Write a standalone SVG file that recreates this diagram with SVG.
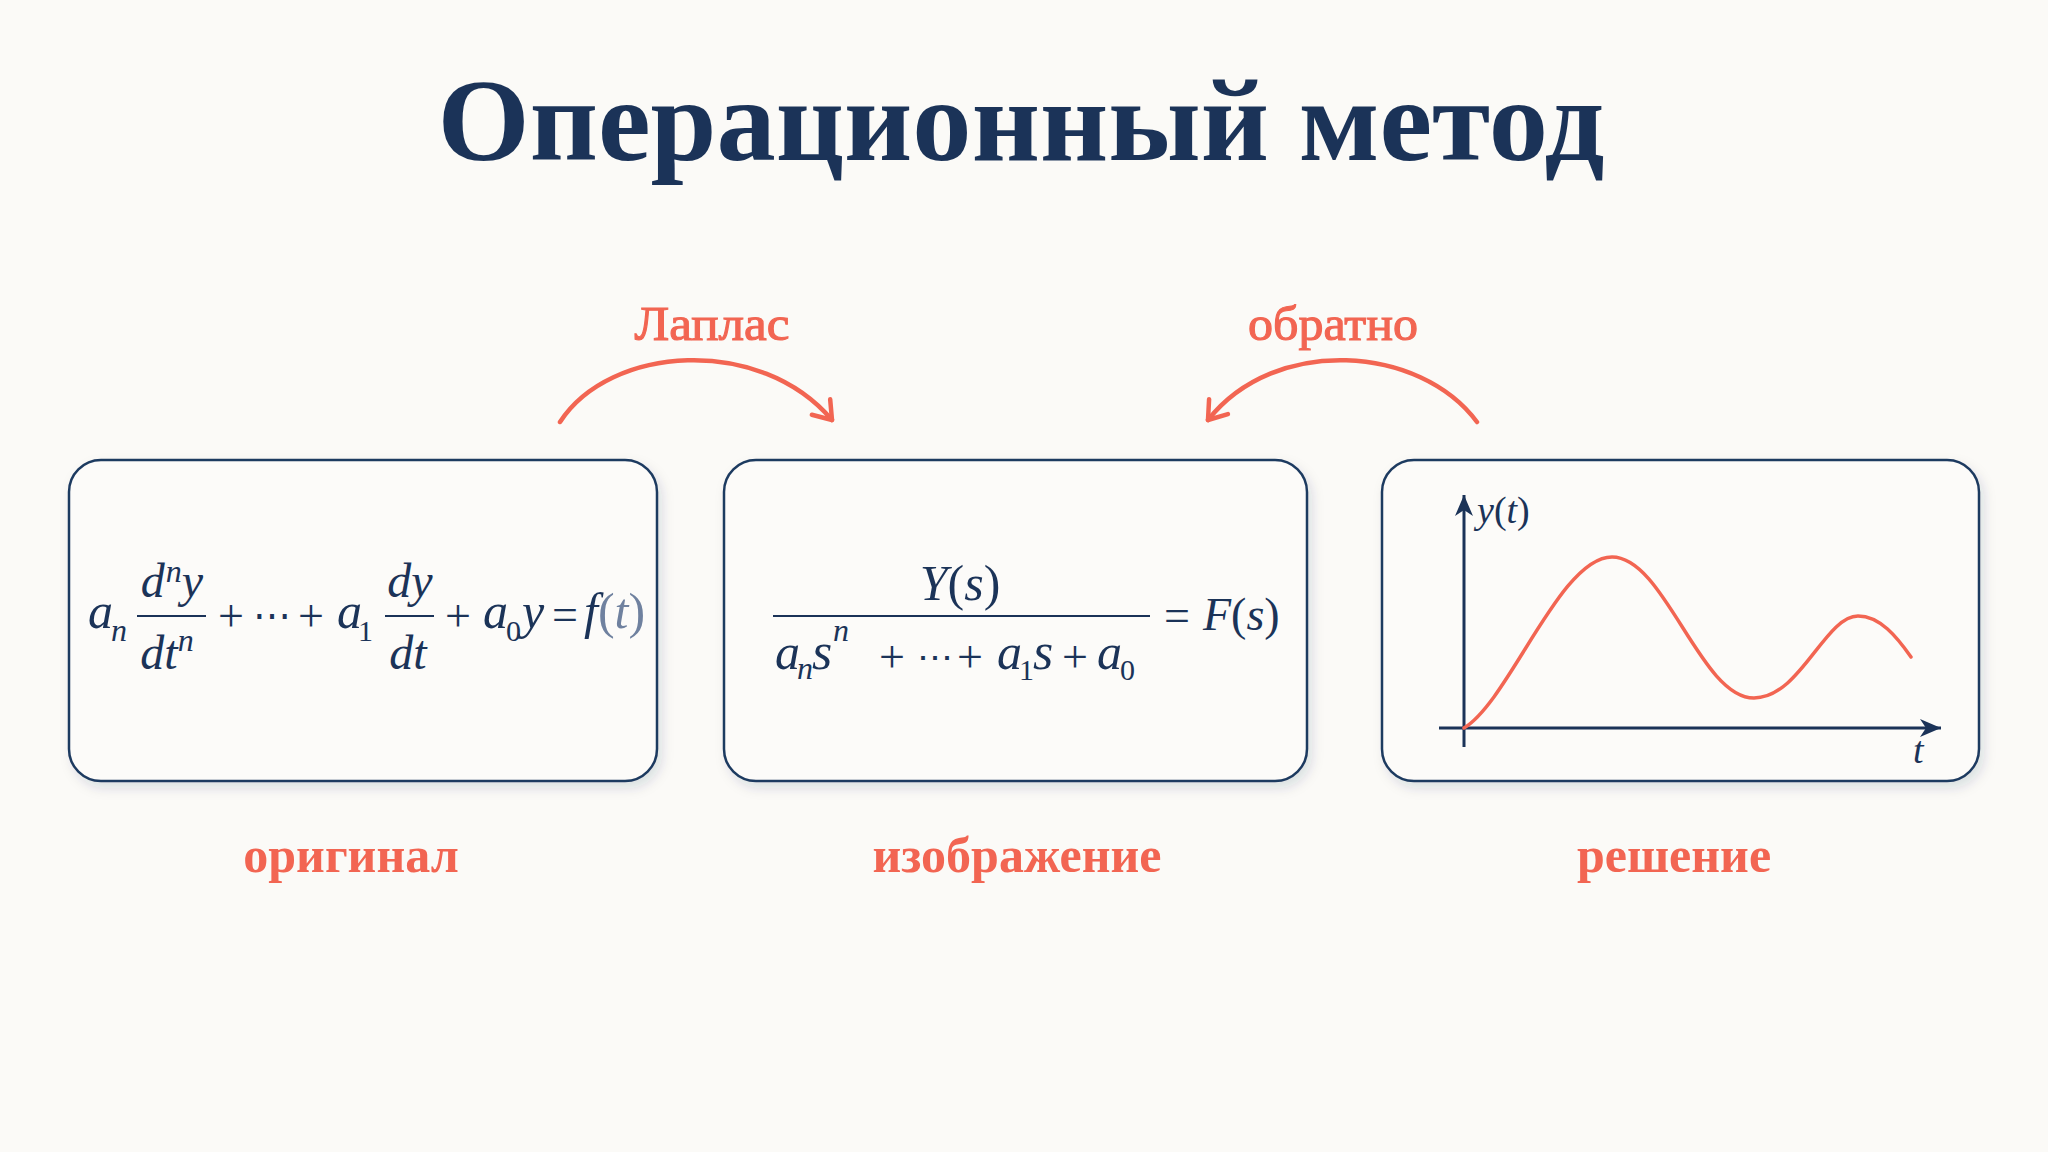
<svg xmlns="http://www.w3.org/2000/svg" width="2048" height="1152" viewBox="0 0 2048 1152">
  <defs>
    <filter id="shadow" x="-10%" y="-10%" width="125%" height="130%">
      <feDropShadow dx="4" dy="6" stdDeviation="6" flood-color="#1b3358" flood-opacity="0.13"/>
    </filter>
    <marker id="chev" markerUnits="userSpaceOnUse" viewBox="-22 -16 26 32" refX="0" refY="0" markerWidth="26" markerHeight="32" orient="auto">
      <path d="M-17,-12 L0,0 L-17,12" fill="none" stroke="#f26552" stroke-width="4.5" stroke-linecap="round" stroke-linejoin="round"/>
    </marker>
    <marker id="axis" markerUnits="userSpaceOnUse" viewBox="-22 -11 24 22" refX="0" refY="0" markerWidth="24" markerHeight="22" orient="auto">
      <path d="M0,0 L-21,-9 L-15,0 L-21,9 Z" fill="#1b3358"/>
    </marker>
    <style>
      .bg { fill: #fbfaf7; }
      .box { fill: #fcfbf9; stroke: #1f3a60; stroke-width: 2.5; }
      .title { font-family: "Liberation Serif", "DejaVu Serif", serif; font-weight: bold; fill: #1b3358; }
      .cap { font-family: "Liberation Serif", "DejaVu Serif", serif; font-weight: bold; fill: #f26552; font-size: 50px; }
      .arrlbl { font-family: "Liberation Serif", "DejaVu Serif", serif; fill: #f26552; stroke: #f26552; stroke-width: 1.1; font-size: 48px; }
      .mi { font-family: "Liberation Serif", "DejaVu Serif", serif; font-style: italic; fill: #1b3358; }
      .mo { font-family: "Liberation Serif", "DejaVu Serif", serif; font-style: normal; fill: #1b3358; }
      .bar { stroke: #1b3358; stroke-width: 2.2; }
      .conn { fill: none; stroke: #f26552; stroke-width: 4.5; stroke-linecap: round; }
      .axisl { stroke: #1b3358; stroke-width: 3; fill: none; }
      .curve { fill: none; stroke: #f26552; stroke-width: 3.5; stroke-linecap: round; }
      .light { fill: #6f819f; }
    </style>
  </defs>

  <rect class="bg" x="0" y="0" width="2048" height="1152"/>

  <text id="title" class="title" x="1021" y="160" font-size="116" text-anchor="middle" textLength="1167" lengthAdjust="spacingAndGlyphs">Операционный метод</text>

  <g id="connectors">
    <path class="conn" d="M560,422 C610,345 760,335 832,420" marker-end="url(#chev)"/>
    <path class="conn" d="M1477,422 C1420,345 1275,335 1208,420" marker-end="url(#chev)"/>
    <text class="arrlbl" x="712" y="340" text-anchor="middle" textLength="155" lengthAdjust="spacingAndGlyphs">Лаплас</text>
    <text class="arrlbl" x="1333" y="340" text-anchor="middle" textLength="170" lengthAdjust="spacingAndGlyphs">обратно</text>
  </g>

  <g id="node-original">
    <rect class="box" x="69" y="460" width="588" height="321" rx="32" filter="url(#shadow)"/>
    <text class="mi" x="88" y="628" font-size="50">a</text>
    <text class="mi" x="111" y="641" font-size="32">n</text>
    <line class="bar" x1="137" y1="616" x2="206" y2="616"/>
    <text class="mi" x="172" y="597" font-size="48" text-anchor="middle">d<tspan font-size="32" dy="-15" dx="1">n</tspan><tspan dy="15">y</tspan></text>
    <text class="mi" x="167" y="669" font-size="48" text-anchor="middle">dt<tspan font-size="32" dy="-18">n</tspan></text>
    <text class="mo" x="231" y="631" font-size="46" text-anchor="middle">+</text>
    <text class="mo" x="272" y="629" font-size="38" text-anchor="middle">⋯</text>
    <text class="mo" x="311" y="631" font-size="46" text-anchor="middle">+</text>
    <text class="mi" x="337" y="628" font-size="50">a</text>
    <text class="mo" x="358" y="641" font-size="30">1</text>
    <line class="bar" x1="385" y1="616" x2="434" y2="616"/>
    <text class="mi" x="410" y="597" font-size="48" text-anchor="middle">dy</text>
    <text class="mi" x="408" y="669" font-size="48" text-anchor="middle">dt</text>
    <text class="mo" x="458" y="631" font-size="46" text-anchor="middle">+</text>
    <text class="mi" x="483" y="628" font-size="50">a</text>
    <text class="mo" x="506" y="641" font-size="30">0</text>
    <text class="mi" x="522" y="628" font-size="50">y</text>
    <text class="mo" x="565" y="630" font-size="46" text-anchor="middle">=</text>
    <text class="mi" x="584" y="628" font-size="50">f<tspan class="mo light">(</tspan><tspan class="light">t</tspan><tspan class="mo light">)</tspan></text>
    <text class="cap" x="351" y="872" text-anchor="middle">оригинал</text>
  </g>

  <g id="node-image">
    <rect class="box" x="724" y="460" width="583" height="321" rx="32" filter="url(#shadow)"/>
    <text class="mi" x="960" y="600" font-size="50" text-anchor="middle">Y<tspan class="mo">(</tspan>s<tspan class="mo">)</tspan></text>
    <line class="bar" x1="773" y1="616" x2="1150" y2="616"/>
    <text class="mi" x="775" y="669" font-size="50">a</text>
    <text class="mi" x="797" y="679" font-size="32">n</text>
    <text class="mi" x="812" y="669" font-size="52">s</text>
    <text class="mi" x="833" y="641" font-size="32">n</text>
    <text class="mo" x="892" y="672" font-size="46" text-anchor="middle">+</text>
    <text class="mo" x="935" y="670" font-size="36" text-anchor="middle">⋯</text>
    <text class="mo" x="970" y="672" font-size="46" text-anchor="middle">+</text>
    <text class="mi" x="997" y="669" font-size="50">a</text>
    <text class="mo" x="1019" y="680" font-size="30">1</text>
    <text class="mi" x="1033" y="669" font-size="52">s</text>
    <text class="mo" x="1075" y="672" font-size="46" text-anchor="middle">+</text>
    <text class="mi" x="1097" y="669" font-size="50">a</text>
    <text class="mo" x="1120" y="680" font-size="30">0</text>
    <text class="mo" x="1177" y="631" font-size="46" text-anchor="middle">=</text>
    <text class="mi" x="1203" y="630" font-size="46">F<tspan class="mo">(</tspan>s<tspan class="mo">)</tspan></text>
    <text class="cap" x="1017" y="872" text-anchor="middle">изображение</text>
  </g>

  <g id="node-solution">
    <rect class="box" x="1382" y="460" width="597" height="321" rx="32" filter="url(#shadow)"/>
    <line class="axisl" x1="1464" y1="747" x2="1464" y2="495" marker-end="url(#axis)"/>
    <line class="axisl" x1="1439" y1="728" x2="1941" y2="728" marker-end="url(#axis)"/>
    <path class="curve" d="M1464,728 C1510,700 1560,557 1612,557 C1665,557 1700,698 1754,698 C1800,698 1825,616 1858,616 C1880,616 1897,637 1911,657"/>
    <text class="mi" x="1477" y="523" font-size="38">y<tspan class="mo">(</tspan>t<tspan class="mo">)</tspan></text>
    <text class="mi" x="1913" y="763" font-size="38">t</text>
    <text class="cap" x="1674" y="872" text-anchor="middle">решение</text>
  </g>
</svg>
